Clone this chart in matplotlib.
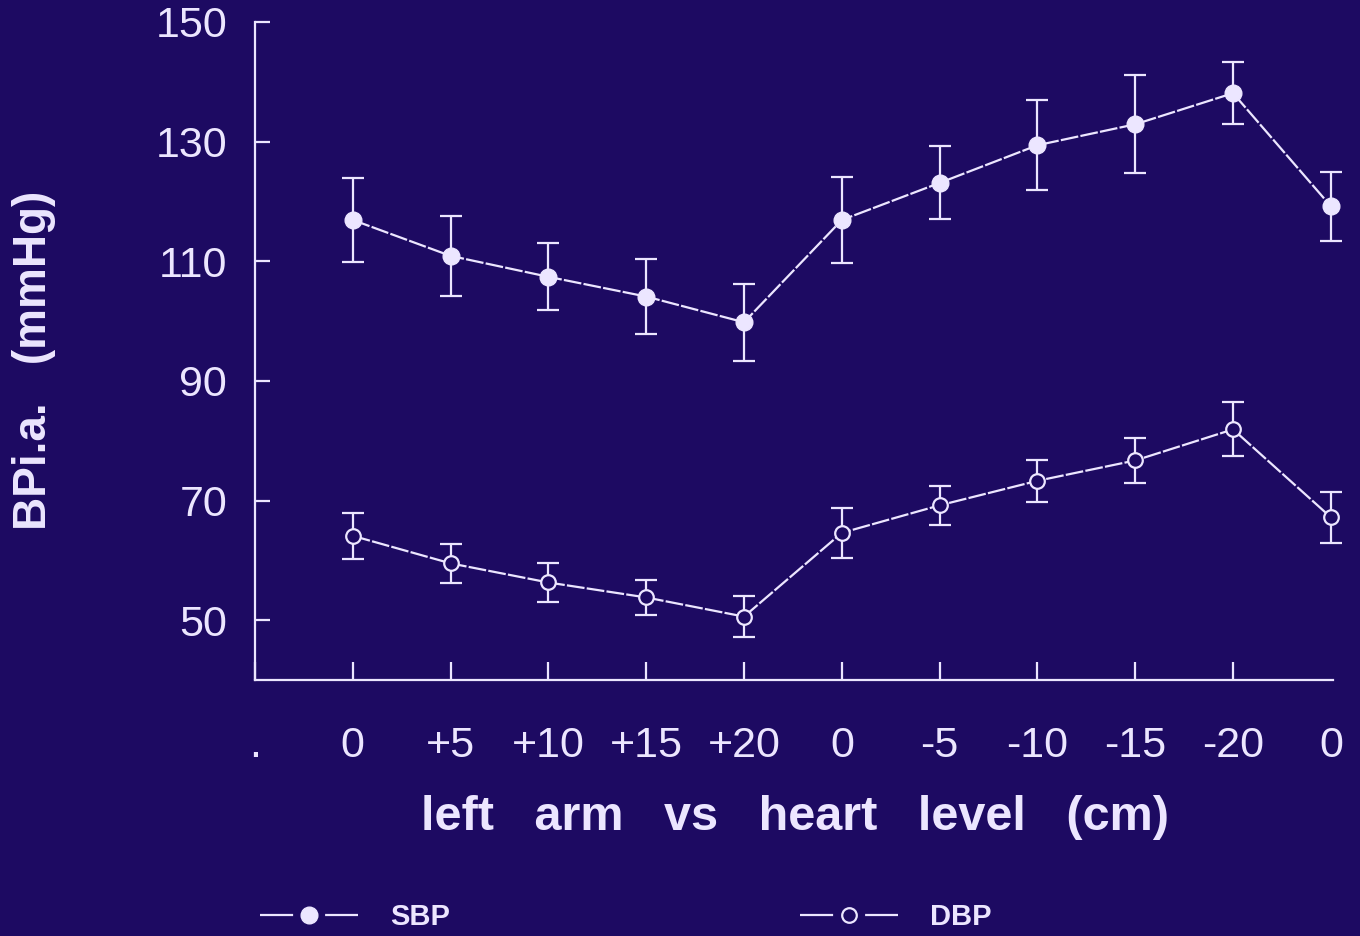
import matplotlib
matplotlib.use("Agg")
import matplotlib.pyplot as plt
from matplotlib.lines import Line2D

BG = "#1d0a62"
FG = "#ece6ff"

plt.rcParams["font.family"] = ["Liberation Sans", "DejaVu Sans"]

# arm position relative to heart level (cm), index 0 is the blank "." slot
positions = [".", "0", "+5", "+10", "+15", "+20", "0", "-5", "-10", "-15", "-20", "0"]
sbp_mean = [116.9, 110.9, 107.4, 104.1, 99.8, 116.9, 123.1, 129.4, 132.9, 138.1, 119.2]
sbp_err = [7.1, 6.7, 5.6, 6.3, 6.4, 7.2, 6.1, 7.5, 8.2, 5.2, 5.8]
dbp_mean = [64.1, 59.5, 56.3, 53.8, 50.6, 64.6, 69.2, 73.3, 76.7, 81.9, 67.2]
dbp_err = [3.8, 3.3, 3.3, 3.0, 3.4, 4.2, 3.3, 3.5, 3.8, 4.5, 4.3]

x = list(range(1, len(sbp_mean) + 1))

fig = plt.figure(figsize=(13.6, 9.36), dpi=100, facecolor=BG)
ax = fig.add_axes([0.1875, 0.2735, 0.7925, 0.703])
ax.set_facecolor(BG)

line_style = dict(color=FG, linewidth=1.6, linestyle=(0, (8, 1)), capsize=8,
                  elinewidth=1.6, capthick=1.6, ecolor=FG)
for series in [
    ax.errorbar(x, sbp_mean, yerr=sbp_err, marker="o", markersize=12,
                markerfacecolor=FG, markeredgecolor=FG, **line_style),
    ax.errorbar(x, dbp_mean, yerr=dbp_err, marker="o", markersize=10.5,
                markerfacecolor=BG, markeredgecolor=FG, markeredgewidth=1.6, **line_style),
]:
    for art in series.get_children():
        art.set_clip_on(False)

ax.set_xlim(0, 11.02)
ax.set_ylim(40, 150)
ax.set_yticks([50, 70, 90, 110, 130, 150])
ax.set_xticks(range(len(positions)))
ax.set_xticklabels(positions)

for side in ["top", "right"]:
    ax.spines[side].set_visible(False)
for side in ["left", "bottom"]:
    ax.spines[side].set_color(FG)
    ax.spines[side].set_linewidth(1.6)

ax.tick_params(axis="both", direction="in", color=FG, labelcolor=FG, width=1.6,
               length=11, labelsize=31)
ax.tick_params(axis="y", pad=20)
ax.tick_params(axis="x", pad=33, length=13)
ax.xaxis.get_major_ticks()[-1].tick1line.set_visible(False)

ax.set_xlabel("left   arm   vs   heart   level   (cm)", color=FG, fontsize=35,
              fontweight="bold")
ax.xaxis.set_label_coords(0.501, -0.175)
ax.set_ylabel("BPi.a.   (mmHg)", color=FG, fontsize=33, fontweight="bold")
ax.yaxis.set_label_coords(-0.185, 0.485)

gap_line = (0, (14.9, 14.4))
handles = [
    Line2D([], [], color=FG, linewidth=1.6, linestyle=gap_line, marker="o",
           markersize=12, markerfacecolor=FG, markeredgecolor=FG),
    Line2D([], [], color=FG, linewidth=1.6, linestyle=gap_line, marker="o",
           markersize=10.5, markerfacecolor=BG, markeredgecolor=FG, markeredgewidth=1.6),
]
leg = fig.legend(handles, ["SBP", "DBP"], loc="center left",
                 bbox_to_anchor=(0.172, 0.02), ncol=2, frameon=False,
                 prop={"size": 21, "weight": "bold"}, handlelength=3.35,
                 handletextpad=1.1, columnspacing=12.0)
for t in leg.get_texts():
    t.set_color(FG)

fig.savefig("out.png", dpi=100, facecolor=BG)
